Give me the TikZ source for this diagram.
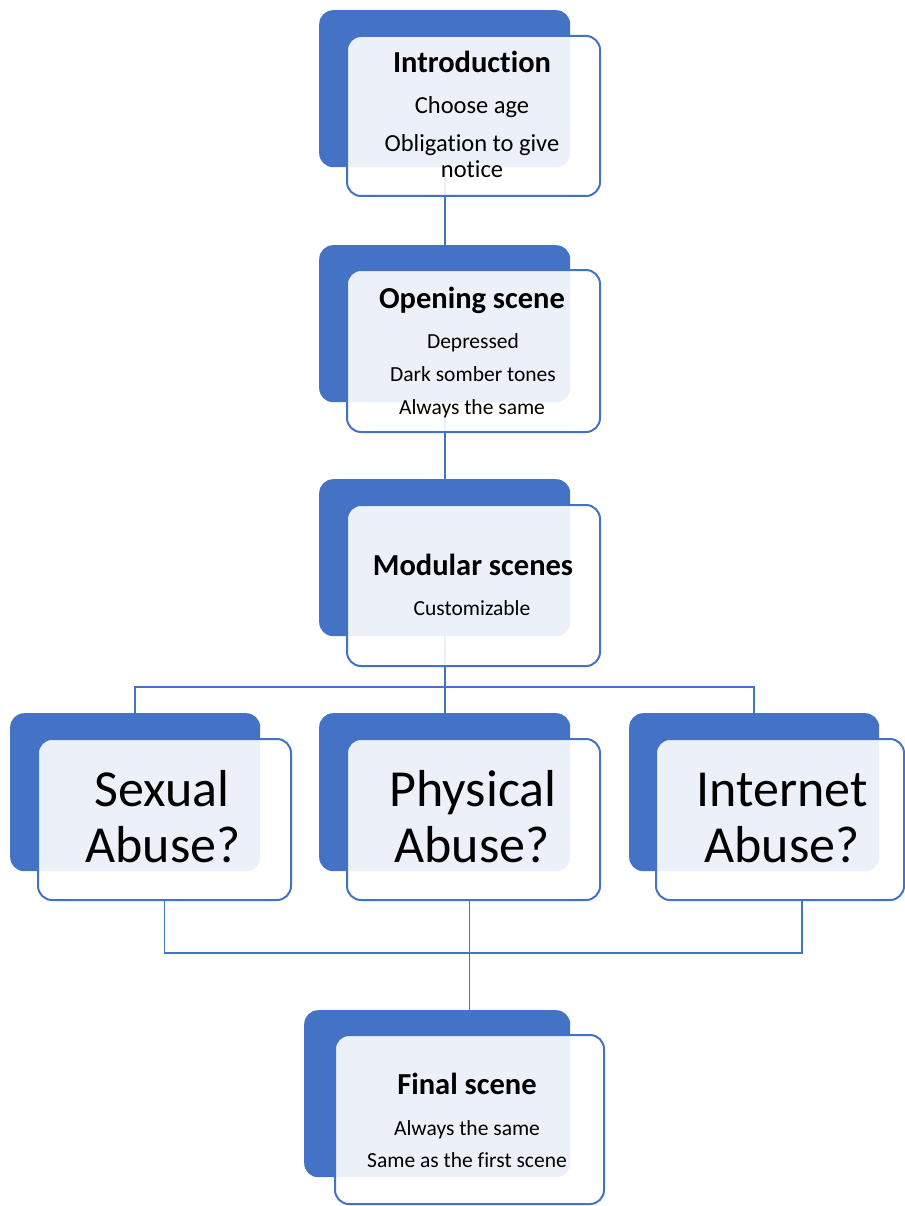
\documentclass[tikz,border=0pt]{standalone}
\usepackage{fontspec}
\setmainfont{Carlito}[Ligatures={NoCommon}]
\definecolor{obl}{HTML}{4472C4}
\tikzset{
  backbox/.style={fill=obl, rounded corners=14pt, inner sep=0pt, anchor=north west},
  frontbox/.style={draw=obl, line width=2pt, fill=white, fill opacity=0.9, rounded corners=14pt, inner sep=0pt, anchor=north west},
  conn/.style={draw=obl, line width=2pt},
  thinconn/.style={draw=obl, line width=1.3pt},
  ttl/.style={anchor=base, inner sep=0pt, font=\bfseries\fontsize{30.5}{36}\selectfont},
  subA/.style={anchor=base, inner sep=0pt, font=\fontsize{24.5}{29}\selectfont},
  subB/.style={anchor=base, inner sep=0pt, font=\fontsize{21.5}{26}\selectfont},
  big/.style={anchor=base, inner sep=0pt, font=\fontsize{52}{60}\selectfont},
}
\begin{document}
\begin{tikzpicture}[x=1pt, y=-1pt]
\useasboundingbox[fill=white] (0,0) rectangle (904,1206);
% back boxes
\node[backbox, minimum width=251pt, minimum height=157pt] (b1) at (319,10) {};
\node[backbox, minimum width=251pt, minimum height=157pt] (b2) at (319,245) {};
\node[backbox, minimum width=251pt, minimum height=157pt] (b3) at (319,479) {};
\node[backbox, minimum width=250pt, minimum height=158pt] (bS) at (10,713) {};
\node[backbox, minimum width=251pt, minimum height=158pt] (bP) at (319,713) {};
\node[backbox, minimum width=250pt, minimum height=158pt] (bI) at (629,713) {};
\node[backbox, minimum width=266pt, minimum height=167pt] (bF) at (304,1010) {};
% helper coordinates
\coordinate (h1) at (0,687);
\coordinate (h2) at (0,953);
\coordinate (h3) at (802,0);
% connectors
\draw[conn] (b1.south) -- (b2.north);
\draw[conn] (b2.south) -- (b3.north);
\draw[conn] (b3.south) -- (b3.south |- h1);
\draw[conn] (bS.north) -- (bS.north |- h1) -- (bI.north |- h1) -- (bI.north);
\draw[conn] (bP.north) -- (bP.north |- h1);
% front boxes
\node[frontbox, minimum width=253pt, minimum height=160pt] (f1) at (346,35) {};
\node[frontbox, minimum width=253pt, minimum height=162pt] (f2) at (346,269) {};
\node[frontbox, minimum width=253pt, minimum height=161pt] (f3) at (346,504) {};
\node[frontbox, minimum width=253pt, minimum height=161pt] (fS) at (37,738) {};
\node[frontbox, minimum width=253pt, minimum height=161pt] (fP) at (346,738) {};
\node[frontbox, minimum width=248pt, minimum height=161pt] (fI) at (655,738) {};
\node[frontbox, minimum width=269pt, minimum height=169pt] (fF) at (334,1034) {};
% lower connectors
\draw[thinconn] (fS.south) -- (fS.south |- h2) -- (h3 |- h2) -- (h3 |- fI.south);
\draw[thinconn] (fF.north |- fP.south) -- (fF.north |- bF.north);
% texts
\node[ttl] (t1) at (472,72.5) {Introduction};
\node[subA] (t1a) at (472,113.5) {Choose age};
\node[subA] (t1b) at (472,151.5) {Obligation to give};
\node[subA] (t1c) at (472,177.5) {notice};
\node[ttl] (t2) at (472,308) {Opening scene};
\node[subB] (t2a) at (473,348) {Depressed};
\node[subB] (t2b) at (473,381.5) {Dark somber tones};
\node[subB] (t2c) at (472,414) {Always the same};
\node[ttl] (t3) at (473,575.5) {Modular scenes};
\node[subB] (t3a) at (472,615) {Customizable};
\node[big] (tS1) at (162,806.5) {Sexual};
\node[big] (tS2) at (163,862.5) {Abuse?};
\node[big] (tP1) at (473,806.5) {Physical};
\node[big] (tP2) at (472,862.5) {Abuse?};
\node[big] (tI1) at (782,806.5) {Internet};
\node[big] (tI2) at (782,862.5) {Abuse?};
\node[ttl] (tF) at (467,1094.5) {Final scene};
\node[subB] (tFa) at (467,1135) {Always the same};
\node[subB] (tFb) at (467,1167.5) {Same as the first scene};
\end{tikzpicture}
\end{document}
